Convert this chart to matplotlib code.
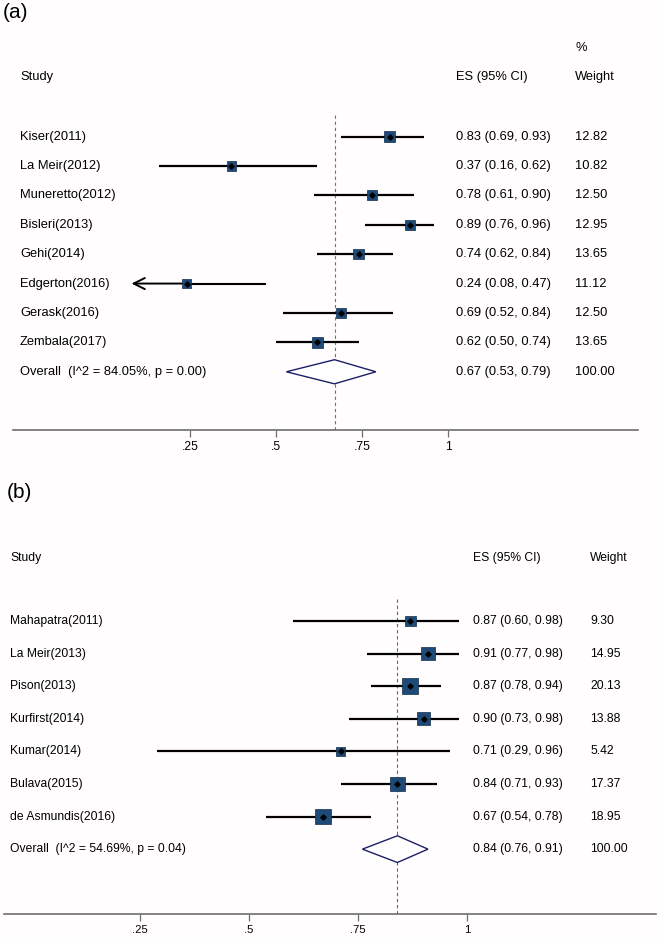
import numpy as np
import matplotlib
matplotlib.use("Agg")
import matplotlib.pyplot as plt

plt.rcParams['font.family'] = ['Liberation Sans', 'DejaVu Sans']

# --- DATA: panel (a) ---
a_study = ["Kiser(2011)", "La Meir(2012)", "Muneretto(2012)", "Bisleri(2013)",
           "Gehi(2014)", "Edgerton(2016)", "Gerask(2016)", "Zembala(2017)"]
a_es = [0.83, 0.37, 0.78, 0.89, 0.74, 0.24, 0.69, 0.62]
a_lo = [0.69, 0.16, 0.61, 0.76, 0.62, 0.08, 0.52, 0.50]
a_hi = [0.93, 0.62, 0.90, 0.96, 0.84, 0.47, 0.84, 0.74]
a_w = [12.82, 10.82, 12.50, 12.95, 13.65, 11.12, 12.50, 13.65]
a_overall = (0.67, 0.53, 0.79)
a_overall_label = "Overall  (I^2 = 84.05%, p = 0.00)"
a_arrow_left = ["Edgerton(2016)"]

# --- DATA: panel (b) ---
b_study = ["Mahapatra(2011)", "La Meir(2013)", "Pison(2013)", "Kurfirst(2014)",
           "Kumar(2014)", "Bulava(2015)", "de Asmundis(2016)"]
b_es = [0.87, 0.91, 0.87, 0.90, 0.71, 0.84, 0.67]
b_lo = [0.60, 0.77, 0.78, 0.73, 0.29, 0.71, 0.54]
b_hi = [0.98, 0.98, 0.94, 0.98, 0.96, 0.93, 0.78]
b_w = [9.30, 14.95, 20.13, 13.88, 5.42, 17.37, 18.95]
b_overall = (0.84, 0.76, 0.91)
b_overall_label = "Overall  (I^2 = 54.69%, p = 0.04)"

tick_vals = [0.25, 0.5, 0.75, 1.0]
tick_labels = [".25", ".5", ".75", "1"]

SQ_COLOR = '#1f4a78'
DIA_COLOR = '#1c1f66'


def forest(ax, study, es, lo, hi, w, overall, overall_label, xlim, ylim,
           x_study, x_es, x_w, y_head, fs, sq_scale, ref_color,
           pct_row=False, arrow_left=()):
    ax.set_xlim(*xlim)
    ax.set_ylim(*ylim)
    rows = np.arange(1, len(study) + 1)
    for r, s, e, l, h in zip(rows, study, es, lo, hi):
        if s in arrow_left:
            ax.plot([e, h], [r, r], color='black', lw=1.5, solid_capstyle='butt')
            ax.annotate("", xy=(l, r), xytext=(e, r),
                        arrowprops=dict(arrowstyle='->', color='black', lw=1.4,
                                        mutation_scale=20, shrinkA=0, shrinkB=0))
        else:
            ax.plot([l, h], [r, r], color='black', lw=1.6, solid_capstyle='butt')
    ax.scatter(es, rows, s=np.array(w) * sq_scale, marker='s', color=SQ_COLOR,
               edgecolors='#0f2c4c', linewidths=0.5, zorder=3)
    ax.scatter(es, rows, s=7, marker='D', color='black', zorder=4)

    # overall diamond
    ro = len(study) + 1
    oe, ol, oh = overall
    hh = 0.41
    ax.fill([ol, oe, oh, oe], [ro, ro - hh, ro, ro + hh], facecolor='white',
            edgecolor=DIA_COLOR, lw=1.0, zorder=3)
    ax.axvline(oe, color=ref_color, lw=0.8, dashes=(3, 2.5), zorder=1)

    # text columns
    for r, s, e, l, h, ww in zip(rows, study, es, lo, hi, w):
        ax.text(x_study, r, s, fontsize=fs, va='center', ha='left')
        ax.text(x_es, r, f"{e:.2f} ({l:.2f}, {h:.2f})", fontsize=fs, va='center')
        ax.text(x_w, r, f"{ww:.2f}", fontsize=fs, va='center')
    ax.text(x_study, ro, overall_label, fontsize=fs, va='center')
    ax.text(x_es, ro, f"{oe:.2f} ({ol:.2f}, {oh:.2f})", fontsize=fs, va='center')
    ax.text(x_w, ro, "100.00", fontsize=fs, va='center')

    ax.text(x_study, y_head, "Study", fontsize=fs, va='center')
    ax.text(x_es, y_head, "ES (95% CI)", fontsize=fs, va='center')
    ax.text(x_w, y_head, "Weight", fontsize=fs, va='center')
    if pct_row:
        ax.text(x_w, y_head - 1.0, "%", fontsize=fs, va='center')

    for sp in ['top', 'left', 'right']:
        ax.spines[sp].set_visible(False)
    ax.spines['bottom'].set_color('#6e6e6e')
    ax.spines['bottom'].set_linewidth(1.2)
    ax.set_yticks([])
    ax.set_xticks(tick_vals)
    ax.set_xticklabels(tick_labels)
    ax.tick_params(axis='x', length=5, width=0.9, color='#6e6e6e',
                   labelsize=fs - 0.6, pad=3)
    ax.set_facecolor('none')


fig = plt.figure(figsize=(6.6, 9.4), dpi=100)
fig.patch.set_facecolor('#fffdfd')

# panel (a)
ax1 = fig.add_axes([13 / 660, 1 - 430 / 940, 625 / 660, 317 / 940])
forest(ax1, a_study, a_es, a_lo, a_hi, a_w, a_overall, a_overall_label,
       xlim=(-0.2645, 1.552), ylim=(10.98, 0.20),
       x_study=-0.244, x_es=1.023, x_w=1.369, y_head=-1.02, fs=9.3,
       sq_scale=4.2, ref_color='#b0585e', pct_row=True,
       arrow_left=a_arrow_left)

# panel (b)
ax2 = fig.add_axes([4 / 660, 1 - 914 / 940, 652 / 660, 317 / 940])
forest(ax2, b_study, b_es, b_lo, b_hi, b_w, b_overall, b_overall_label,
       xlim=(-0.0602, 1.4318), ylim=(9.99, 0.264),
       x_study=-0.0465, x_es=1.013, x_w=1.281, y_head=-0.93, fs=8.7,
       sq_scale=6.6, ref_color='#666666')

fig.text(3 / 660, 1 - 13 / 940, "(a)", fontsize=15, va='center', ha='left')
fig.text(7 / 660, 1 - 493 / 940, "(b)", fontsize=15, va='center', ha='left')

fig.savefig("out.png", dpi=100, facecolor=fig.get_facecolor())
